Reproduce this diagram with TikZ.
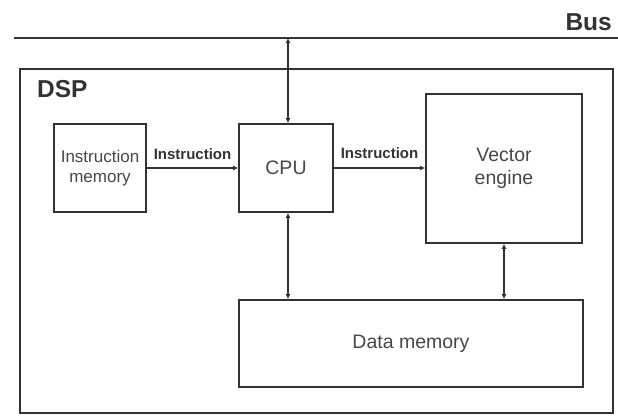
\documentclass[tikz,border=0pt]{standalone}
\usepackage{fontspec}
\setmainfont{Liberation Sans}
\usetikzlibrary{arrows.meta}
\definecolor{ink}{HTML}{333333}
\tikzset{
  blk/.style={draw=ink, line width=1.6pt, fill=white, inner sep=0pt},
  lnk/.style={draw=ink, line width=1.4pt, {Latex[length=5pt,width=5pt]}-{Latex[length=5pt,width=5pt]}},
  fwd/.style={draw=ink, line width=1.4pt, -{Latex[length=5pt,width=5pt]}},
  lbl/.style={font=\bfseries\fontsize{15}{17}\selectfont, text=ink, inner sep=0pt},
  body/.style={font=\fontsize{19.5}{23}\selectfont, text=ink!90, align=center, inner sep=0pt},
  title/.style={font=\bfseries\fontsize{24.5}{28}\selectfont, text=ink, inner sep=0pt},
}
\begin{document}
\begin{tikzpicture}[x=1pt,y=-1pt]
  \useasboundingbox (0,0) rectangle (618,415);
  \fill[white] (0,0) rectangle (618,415);

  % system bus
  \coordinate (busL) at (14,38);
  \coordinate (busR) at (618,38);
  \draw[ink, line width=1.4pt] (busL) -- (busR);
  \node[title, anchor=base east] (bus) at (612,30) {Bus};

  % DSP enclosure
  \draw[ink, line width=1.6pt] (20,69) rectangle (613,413);
  \node[title, anchor=base west] (dsp) at (37,97) {DSP};

  % blocks
  \node[blk, minimum width=92pt, minimum height=88pt] (imem) at (100,168) {};
  \node[body, font=\fontsize{17}{20}\selectfont] at (imem) {Instruction\\memory};
  \node[blk, minimum width=94pt, minimum height=88pt] (cpu) at (286,168) {};
  \node[body] at (cpu) {CPU};
  \node[blk, minimum width=156pt, minimum height=149pt] (vec) at (504,168.5) {};
  \node[body, font=\fontsize{19.5}{23}\selectfont] at (vec) {Vector\\engine};
  \node[blk, minimum width=344pt, minimum height=87pt] (dmem) at (411,343.5) {};
  \node[body] at (dmem) {Data memory};

  % bus to CPU
  \coordinate (tap) at (288,38);
  \draw[lnk] (tap) -- (cpu.north -| tap);

  % instruction paths
  \draw[fwd] (imem.east) -- (cpu.west) node[lbl, midway, above=8pt] {Instruction};
  \draw[fwd] (cpu.east) -- (cpu.east -| vec.west) node[lbl, midway, above=9pt] {Instruction};

  % data paths
  \draw[lnk] (cpu.south -| tap) -- (dmem.north -| tap);
  \coordinate (vx) at (504,0);
  \draw[lnk] (vec.south -| vx) -- (dmem.north -| vx);
\end{tikzpicture}
\end{document}
